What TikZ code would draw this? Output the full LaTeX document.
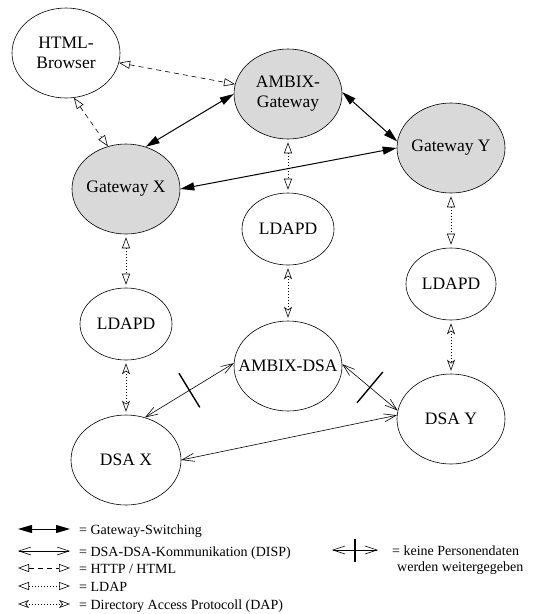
\documentclass[tikz,border=0pt]{standalone}
\usepackage{fontspec}
\setmainfont{Liberation Serif}
\usetikzlibrary{arrows.meta,shapes.geometric,calc}

\newcommand\knotenfont{\fontsize{17.5}{20}\selectfont}
\newcommand\legfont{\fontsize{14}{16}\selectfont}

\tikzset{
    knoten/.style={ellipse, draw, line width=0.6pt, inner sep=0pt, minimum width=108pt, minimum height=90pt,
        label={[font=\knotenfont, align=center]center:#1}},
    gw/.style={knoten=#1, fill=black!15},
    klein/.style={knoten=#1, minimum width=92pt, minimum height=72pt},
    gwsw/.style={line width=1pt, >={Triangle[length=14pt,width=8pt]}, <->},
    disp/.style={line width=0.6pt, >={Straight Barb[length=12pt,width=8pt]}, <->},
    http/.style={line width=0.6pt, dash pattern=on 5pt off 4pt, >={Triangle[open,length=11pt,width=8pt]}, <->},
    ldap/.style={line width=0.6pt, dash pattern=on 1pt off 2pt, >={Triangle[open,length=11pt,width=8pt]}, <->,
        shorten >=3pt, shorten <=3pt},
    dap/.style={line width=0.6pt, dash pattern=on 1pt off 2pt, >={Stealth[open,length=11pt,width=8pt,inset=3pt]}, <->,
        shorten >=3pt, shorten <=3pt},
    xbar/.style={sloped, fill, inner sep=0pt, minimum width=1.4pt, minimum height=40pt},
    legtext/.style={font=\legfont, anchor=base west, inner sep=0pt}
}

\begin{document}
\begin{tikzpicture}[x=1pt,y=-1pt]
    \useasboundingbox (0,0) rectangle (537,614);

    % Knoten
    \node[knoten={HTML-\\Browser}] (html) at (66,53) {};
    \node[gw={AMBIX-\\Gateway}] (ambixgw) at (288,94) {};
    \node[gw={Gateway X}] (gwx) at (126,189) {};
    \node[gw={Gateway Y}] (gwy) at (451,148) {};
    \node[klein={LDAPD}] (ldapdm) at (288,229) {};
    \node[klein={LDAPD}, minimum width=90pt] (ldapdr) at (451,284) {};
    \node[klein={LDAPD}] (ldapdl) at (126,324) {};
    \node[knoten={AMBIX-DSA}] (ambixdsa) at (288,366) {};
    \node[knoten={DSA X}, minimum width=110pt] (dsax) at (126,460) {};
    \node[knoten={DSA Y}] (dsay) at (451,419) {};

    % Verbindungen
    \draw[http] (html) -- (ambixgw);
    \draw[http] (html.-80) -- (gwx.113);
    \draw[gwsw] (ambixgw.180) -- (gwx.65);
    \draw[gwsw] (ambixgw.2) -- (gwy.173);
    \draw[gwsw] (gwx.east) -- (gwy.west);
    \draw[ldap] (ambixgw) -- (ldapdm);
    \draw[ldap] (gwx) -- (ldapdl);
    \draw[ldap] (gwy) -- (ldapdr);
    \draw[dap] (ldapdm) -- (ambixdsa);
    \draw[dap] (ldapdl) -- (dsax);
    \draw[dap] (ldapdr) -- (dsay);
    \draw[disp] (dsax.66) -- node[xbar] (bar1) {} (ambixdsa.177);
    \draw[disp] (ambixdsa.2) -- node[xbar] (bar2) {} (dsay.171);
    \draw[disp] (dsax.east) -- (dsay.176);

    % Legende
    \coordinate (l1a) at (18,529); \coordinate (l1b) at (70,529);
    \coordinate (l2a) at (18,551); \coordinate (l2b) at (70,551);
    \coordinate (l3a) at (18,568); \coordinate (l3b) at (70,568);
    \coordinate (l4a) at (18,586); \coordinate (l4b) at (70,586);
    \coordinate (l5a) at (18,604); \coordinate (l5b) at (70,604);
    \draw[gwsw] (l1a) -- (l1b);
    \draw[disp] (l2a) -- (l2b);
    \draw[http] (l3a) -- (l3b);
    \draw[ldap, shorten >=0pt, shorten <=0pt] (l4a) -- (l4b);
    \draw[dap, shorten >=0pt, shorten <=0pt] (l5a) -- (l5b);
    \node[legtext] (t1) at (79,534) {= Gateway-Switching};
    \node[legtext] (t2) at (79,556) {= DSA-DSA-Kommunikation (DISP)};
    \node[legtext] (t3) at (79,573) {= HTTP / HTML};
    \node[legtext] (t4) at (79,591) {= LDAP};
    \node[legtext] (t5) at (79,609) {= Directory Access Protocoll (DAP)};

    \coordinate (k1a) at (332,550); \coordinate (k1b) at (378,550);
    \draw[disp] (k1a) -- node[xbar, minimum height=23pt] (bar3) {} (k1b);
    \node[legtext] (keine) at (392,555) {= keine Personendaten};
    \node[legtext] (werden) at ($(keine.base west)+(5,16)$) {werden weitergegeben};
\end{tikzpicture}
\end{document}
